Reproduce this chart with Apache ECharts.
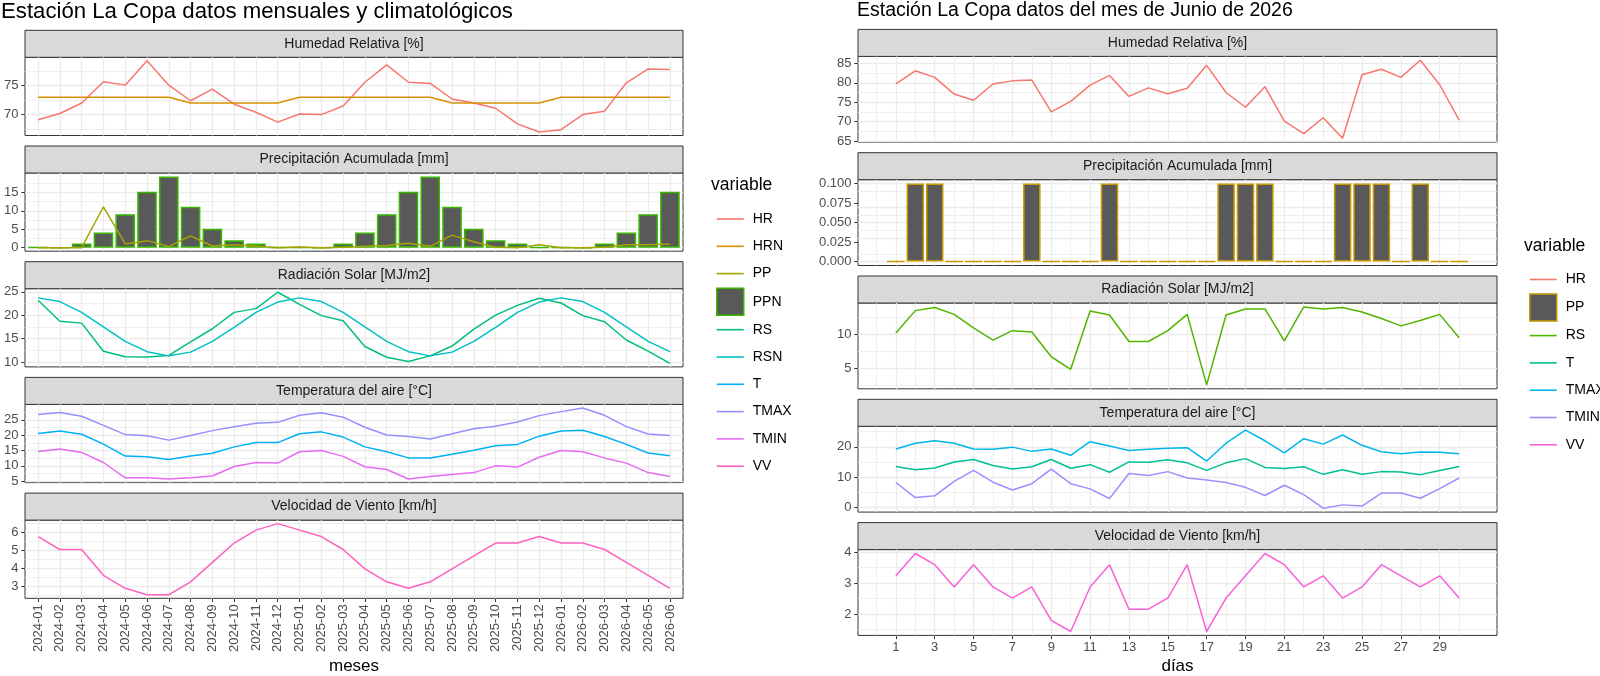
<!DOCTYPE html>
<html>
<head>
<meta charset="utf-8">
<script src="https://cdn.jsdelivr.net/npm/echarts@6/dist/echarts.min.js"></script>
<style>
html, body { margin: 0; padding: 0; background: #fff; }
#charts { width: 1600px; height: 676px; }
</style>
</head>
<body>
<div id="charts"></div>
<script>
// datos mensuales (2024-01 .. 2026-06)
var meses = ['2024-01','2024-02','2024-03','2024-04','2024-05','2024-06','2024-07','2024-08','2024-09','2024-10','2024-11','2024-12',
             '2025-01','2025-02','2025-03','2025-04','2025-05','2025-06','2025-07','2025-08','2025-09','2025-10','2025-11','2025-12',
             '2026-01','2026-02','2026-03','2026-04','2026-05','2026-06'];
var hr   = [69.1,70.2,72.0,75.7,75.1,79.3,75.1,72.4,74.4,71.8,70.4,68.7, 70.1,70.0,71.5,75.6,78.6,75.6,75.4,72.7,72.0,71.1,68.4,67.0, 67.4,70.0,70.6,75.5,77.9,77.8];
var hrn  = [73,73,73,73,73,73,73,72,72,72,72,72, 73,73,73,73,73,73,73,72,72,72,72,72, 73,73,73,73,73,73];
var pp   = [0,0,0,11.1,1.0,1.9,0.35,3.2,0.45,0.8,0.45,0, 0.2,0,0.1,0.35,0.6,1.2,0.35,3.4,1.6,0.1,0,0.8, 0,0,0.1,0.8,0.8,1.0];
var ppn  = [0.1,0,1.1,4.1,9.1,15.2,19.3,11.1,5.1,2.0,1.1,0.1, 0.1,0,1.1,4.1,9.1,15.2,19.3,11.1,5.1,2.0,1.1,0.1, 0.1,0,1.1,4.1,9.1,15.2];
var rs   = [23.2,18.7,18.3,12.3,11.1,11.05,11.4,14.3,17.1,20.6,21.4,24.9, 22.3,19.9,18.8,13.3,11.0,10.1,11.3,13.4,17.0,20.0,22.1,23.6, 22.6,19.9,18.6,14.7,12.3,9.7];
var rsn  = [23.7,22.9,20.6,17.5,14.4,12.2,11.3,12.1,14.4,17.4,20.6,22.8, 23.7,22.9,20.6,17.5,14.4,12.2,11.3,12.1,14.4,17.4,20.6,22.8, 23.7,22.9,20.6,17.5,14.4,12.2];
var tmed = [20.6,21.4,20.3,17.1,13.2,13.0,12.1,13.2,14.1,16.2,17.6,17.6, 20.5,21.1,19.4,16.2,14.6,12.6,12.6,13.8,15.1,16.6,17.0,19.7, 21.4,21.6,19.6,17.0,14.2,13.3];
var tmax = [26.8,27.4,26.2,23.2,20.2,19.8,18.4,19.9,21.5,22.8,23.9,24.2, 26.5,27.3,25.9,22.6,20.1,19.6,18.8,20.5,22.1,22.9,24.3,26.4, 27.7,28.9,26.5,22.8,20.4,19.9];
var tmin = [14.7,15.5,14.4,11.1,6.1,6.1,5.7,6.1,6.7,9.8,11.1,10.9, 14.6,15.0,13.1,9.7,8.8,5.7,6.5,7.2,7.8,10.0,9.6,12.8, 15.0,14.6,12.6,10.9,7.8,6.5];
var vv   = [5.76,5.04,5.04,3.6,2.88,2.52,2.52,3.24,4.32,5.4,6.12,6.48, 6.12,5.76,5.04,3.96,3.24,2.88,3.24,3.96,4.68,5.4,5.4,5.76, 5.4,5.4,5.04,4.32,3.6,2.88];

// datos diarios, junio 2026
var dias   = [1,2,3,4,5,6,7,8,9,10,11,12,13,14,15,16,17,18,19,20,21,22,23,24,25,26,27,28,29,30];
var hrDia  = [79.75,83.1,81.4,77.1,75.5,79.7,80.5,80.7,72.5,75.2,79.4,81.9,76.5,78.7,77.2,78.6,84.5,77.5,73.7,79.0,70.1,66.9,71.0,65.7,82.1,83.5,81.4,85.8,79.5,70.4];
var ppDia  = [0,0.1,0.1,0,0,0,0,0.1,0,0,0,0.1,0,0,0,0,0,0.1,0.1,0.1,0,0,0,0.1,0.1,0.1,0,0.1,0,0];
var rsDia  = [10.15,13.45,13.9,12.9,10.9,9.1,10.5,10.3,6.65,4.8,13.4,12.8,8.9,8.9,10.5,12.9,2.5,12.8,13.7,13.7,9.0,14.0,13.7,13.9,13.25,12.3,11.2,12.0,12.9,9.45];
var tDia   = [13.5,12.4,13.0,15.0,15.8,13.8,12.7,13.4,15.8,12.9,14.1,11.6,15.0,14.9,15.7,14.7,12.2,14.7,16.1,13.2,12.8,13.4,10.9,12.4,10.9,11.8,11.7,10.8,12.2,13.5];
var tmaxDia= [19.3,21.2,22.0,21.2,19.3,19.2,19.9,18.5,19.3,17.2,21.7,20.3,18.8,19.2,19.5,19.7,15.3,21.2,25.5,22.0,18.0,22.7,20.9,23.9,20.5,18.4,17.7,18.3,18.2,17.7];
var tminDia= [8.2,3.2,3.8,8.6,12.2,8.3,5.7,7.8,12.6,7.8,6.1,2.9,11.2,10.5,11.8,9.7,9.0,8.2,6.6,3.9,7.3,4.2,-0.3,0.8,0.4,4.7,4.7,3.0,6.2,9.7];
var vvDia  = [3.24,3.96,3.6,2.88,3.6,2.88,2.52,2.88,1.8,1.44,2.88,3.6,2.16,2.16,2.52,3.6,1.44,2.52,3.24,3.96,3.6,2.88,3.24,2.52,2.88,3.6,3.24,2.88,3.24,2.52];

// marcas de los ejes
var ticksHrMes = [70, 75];
var ticksPpMes = [0, 5, 10, 15];
var ticksRsMes = [10, 15, 20, 25];
var ticksTMes  = [5, 10, 15, 20, 25];
var ticksVvMes = [3, 4, 5, 6];
var ticksHrDia = [65, 70, 75, 80, 85];
var ticksPpDia = [0, 0.025, 0.05, 0.075, 0.1];
var ticksRsDia = [5, 10];
var ticksTDia  = [0, 10, 20];
var ticksVvDia = [2, 3, 4];
var ticksDias  = [1, 3, 5, 7, 9, 11, 13, 15, 17, 19, 21, 23, 25, 27, 29];

var FUENTE = 'Liberation Sans';
var STRIP = 27, GAP = 10.5;

var idxMes = meses.map(function (m, k) { return k + 1; });

var izq = { x0: 25, x1: 683, top: 30.3, period: 115.7, xmin: 0.4, xmax: 30.6, xs: idxMes, ticks: idxMes, menores: [],
  rot: 90, fmt: function (v) { return meses[Math.round(v) - 1] || ''; } };
var der = { x0: 858, x1: 1497, top: 29.4, period: 123.3, xmin: -0.95, xmax: 31.95, xs: dias, ticks: ticksDias, menores: null,
  rot: 0, fmt: function (v) { return String(v); } };

var paneles = [
  { lado: izq, fila: 0, titulo: 'Humedad Relativa [%]', ticks: ticksHrMes, series: [
    { name: 'HR', d: hr, color: '#F8766D' }, { name: 'HRN', d: hrn, color: '#D89000' }] },
  { lado: izq, fila: 1, titulo: 'Precipitación Acumulada [mm]', ticks: ticksPpMes, cero: true, series: [
    { name: 'PPN', d: ppn, barra: true, color: '#595959', borde: '#39B600' }, { name: 'PP', d: pp, color: '#A3A500' }] },
  { lado: izq, fila: 2, titulo: 'Radiación Solar [MJ/m2]', ticks: ticksRsMes, series: [
    { name: 'RS', d: rs, color: '#00BF7D' }, { name: 'RSN', d: rsn, color: '#00BFC4' }] },
  { lado: izq, fila: 3, titulo: 'Temperatura del aire [°C]', ticks: ticksTMes, series: [
    { name: 'T', d: tmed, color: '#00B0F6' }, { name: 'TMAX', d: tmax, color: '#9590FF' }, { name: 'TMIN', d: tmin, color: '#E76BF3' }] },
  { lado: izq, fila: 4, titulo: 'Velocidad de Viento [km/h]', ticks: ticksVvMes, series: [
    { name: 'VV', d: vv, color: '#FF62BC' }] },

  { lado: der, fila: 0, titulo: 'Humedad Relativa [%]', ticks: ticksHrDia, series: [
    { name: 'HR_d', d: hrDia, color: '#F8766D' }] },
  { lado: der, fila: 1, titulo: 'Precipitación Acumulada [mm]', ticks: ticksPpDia, cero: true, dec: 3, series: [
    { name: 'PP_d', d: ppDia, barra: true, color: '#595959', borde: '#C49A00' }] },
  { lado: der, fila: 2, titulo: 'Radiación Solar [MJ/m2]', ticks: ticksRsDia, series: [
    { name: 'RS_d', d: rsDia, color: '#53B400' }] },
  { lado: der, fila: 3, titulo: 'Temperatura del aire [°C]', ticks: ticksTDia, series: [
    { name: 'T_d', d: tDia, color: '#00C094' }, { name: 'TMAX_d', d: tmaxDia, color: '#00B6EB' }, { name: 'TMIN_d', d: tminDia, color: '#A58AFF' }] },
  { lado: der, fila: 4, titulo: 'Velocidad de Viento [km/h]', ticks: ticksVvDia, series: [
    { name: 'VV_d', d: vvDia, color: '#FB61D7' }] }
];

// lineas menores a mitad de camino, como ggplot
function menores(may, lo, hi) {
  var out = [];
  if (may.length < 2) return out;
  var paso = may[1] - may[0];
  for (var v = may[0] - paso / 2; v <= hi + 1e-9; v += paso) {
    if (v >= lo - 1e-9) out.push(+v.toFixed(6));
  }
  return out;
}

var grids = [], ejesX = [], ejesY = [], series = [], graficos = [];
var GRIS = '#EBEBEB';

paneles.forEach(function (p, i) {
  var lado = p.lado;
  var alto = lado.period - STRIP - GAP;
  var yStrip = lado.top + p.fila * lado.period;
  var ancho = lado.x1 - lado.x0;
  var abajo = p.fila === 4;

  grids.push({ left: lado.x0, top: yStrip + STRIP, width: ancho, height: alto, show: true,
    backgroundColor: '#fff', borderColor: '#333333', borderWidth: 1, containLabel: false, outerBoundsMode: 'none' });

  var todos = [];
  p.series.forEach(function (s) { todos = todos.concat(s.d); });
  if (p.cero) todos.push(0);
  var lo = Math.min.apply(null, todos), hi = Math.max.apply(null, todos), r = hi - lo;
  var ymin = lo - 0.05 * r, ymax = hi + 0.05 * r;

  ejesX.push({ type: 'value', gridIndex: i, min: lado.xmin, max: lado.xmax, position: 'bottom',
    axisLine: { show: false, onZero: false }, splitLine: { show: false },
    axisTick: { show: abajo, customValues: lado.ticks, length: 3.7, lineStyle: { color: '#333333', width: 1 } },
    axisLabel: { show: abajo, customValues: lado.ticks, rotate: lado.rot, margin: 6, hideOverlap: false,
      color: '#4D4D4D', fontSize: 13, fontFamily: FUENTE, formatter: lado.fmt } });

  ejesY.push({ type: 'value', gridIndex: i, min: ymin, max: ymax, position: 'left',
    axisLine: { show: false, onZero: false }, splitLine: { show: false },
    axisTick: { show: true, customValues: p.ticks, length: 3.7, lineStyle: { color: '#333333', width: 1 } },
    axisLabel: { show: true, customValues: p.ticks, margin: 6.5, hideOverlap: false, color: '#4D4D4D', fontSize: 13, fontFamily: FUENTE,
      formatter: function (v) { return p.dec ? v.toFixed(p.dec) : String(v); } } });

  // rejilla mayor y menor
  var mx = lado.menores === null ? menores(lado.ticks, lado.xmin, lado.xmax) : lado.menores;
  var lineas = [];
  menores(p.ticks, ymin, ymax).forEach(function (v) { lineas.push({ yAxis: v, lineStyle: { color: GRIS, width: 0.8, type: 'solid' } }); });
  mx.forEach(function (v) { lineas.push({ xAxis: v, lineStyle: { color: GRIS, width: 0.8, type: 'solid' } }); });
  p.ticks.forEach(function (v) { lineas.push({ yAxis: v, lineStyle: { color: GRIS, width: 1.3, type: 'solid' } }); });
  lado.ticks.forEach(function (v) { lineas.push({ xAxis: v, lineStyle: { color: GRIS, width: 1.3, type: 'solid' } }); });
  series.push({ name: 'rejilla' + i, type: 'line', xAxisIndex: i, yAxisIndex: i, data: [], z: 1, silent: true,
    markLine: { z: 1, silent: true, animation: false, symbol: ['none', 'none'], label: { show: false },
      emphasis: { disabled: true }, data: lineas } });

  var pxUnidad = ancho / (lado.xmax - lado.xmin);
  p.series.forEach(function (s) {
    var datos = s.d.map(function (v, k) { return [lado.xs[k], v]; });
    if (s.barra) {
      series.push({ name: s.name, type: 'bar', xAxisIndex: i, yAxisIndex: i, data: datos, z: 2,
        barWidth: 0.9 * pxUnidad, itemStyle: { color: s.color, borderColor: s.borde, borderWidth: 1.5 },
        emphasis: { disabled: true } });
    } else {
      series.push({ name: s.name, type: 'line', xAxisIndex: i, yAxisIndex: i, data: datos, z: 3,
        symbol: 'none', showSymbol: false, lineStyle: { color: s.color, width: 1.5 }, itemStyle: { color: s.color },
        emphasis: { disabled: true } });
    }
  });

  // tira del facet
  graficos.push({ type: 'rect', silent: true, shape: { x: lado.x0, y: yStrip, width: ancho, height: STRIP },
    style: { fill: '#D9D9D9', stroke: '#333333', lineWidth: 1 } });
  graficos.push({ type: 'text', silent: true, x: lado.x0 + ancho / 2, y: yStrip + STRIP / 2,
    style: { text: p.titulo, fill: '#1A1A1A', fontSize: 14, fontFamily: FUENTE, align: 'center', verticalAlign: 'middle' } });
});

function texto(x, y, t, tam, alin) {
  return { type: 'text', silent: true, x: x, y: y,
    style: { text: t, fill: '#000', fontSize: tam, fontFamily: FUENTE, align: alin || 'left', verticalAlign: 'middle' } };
}
graficos.push(texto(1, 12, 'Estación La Copa datos mensuales y climatológicos', 22.2));
graficos.push(texto(857, 11, 'Estación La Copa datos del mes de Junio de 2026', 19.5));
graficos.push(texto((izq.x0 + izq.x1) / 2, 666, 'meses', 17, 'center'));
graficos.push(texto((der.x0 + der.x1) / 2, 666, 'días', 17, 'center'));
graficos.push(texto(711, 185, 'variable', 17.5));
graficos.push(texto(1524, 246, 'variable', 17.5));

var LINEA = 'path://M0,0H27V1.6H0Z';
function caja(name, borde) {
  return { name: name, icon: 'rect', itemStyle: { color: '#595959', borderColor: borde, borderWidth: 1.5 } };
}
function raya(name) {
  return { name: name, icon: LINEA, itemStyle: { borderWidth: 0 } };
}
var leyendaComun = { orient: 'vertical', itemWidth: 27, itemHeight: 27, itemGap: 0.3, selectedMode: false,
  textStyle: { fontSize: 14, lineHeight: 27, color: '#000', fontFamily: FUENTE, padding: [0, 0, 0, 4] } };

var option = {
  animation: false,
  textStyle: { fontFamily: FUENTE },
  grid: grids,
  xAxis: ejesX,
  yAxis: ejesY,
  legend: [
    Object.assign({ left: 711, top: 200.5,
      data: [raya('HR'), raya('HRN'), raya('PP'), caja('PPN', '#39B600'), raya('RS'), raya('RSN'),
             raya('T'), raya('TMAX'), raya('TMIN'), raya('VV')] }, leyendaComun),
    Object.assign({ left: 1524, top: 261,
      data: [raya('HR_d'), caja('PP_d', '#C49A00'), raya('RS_d'), raya('T_d'), raya('TMAX_d'), raya('TMIN_d'), raya('VV_d')],
      formatter: function (n) { return n.replace('_d', ''); } }, leyendaComun)
  ],
  graphic: graficos,
  series: series
};

var myChart = echarts.init(document.getElementById('charts'));
myChart.setOption(option);
window.addEventListener('resize', function () {
  myChart.resize();
});
</script>
</body>
</html>
